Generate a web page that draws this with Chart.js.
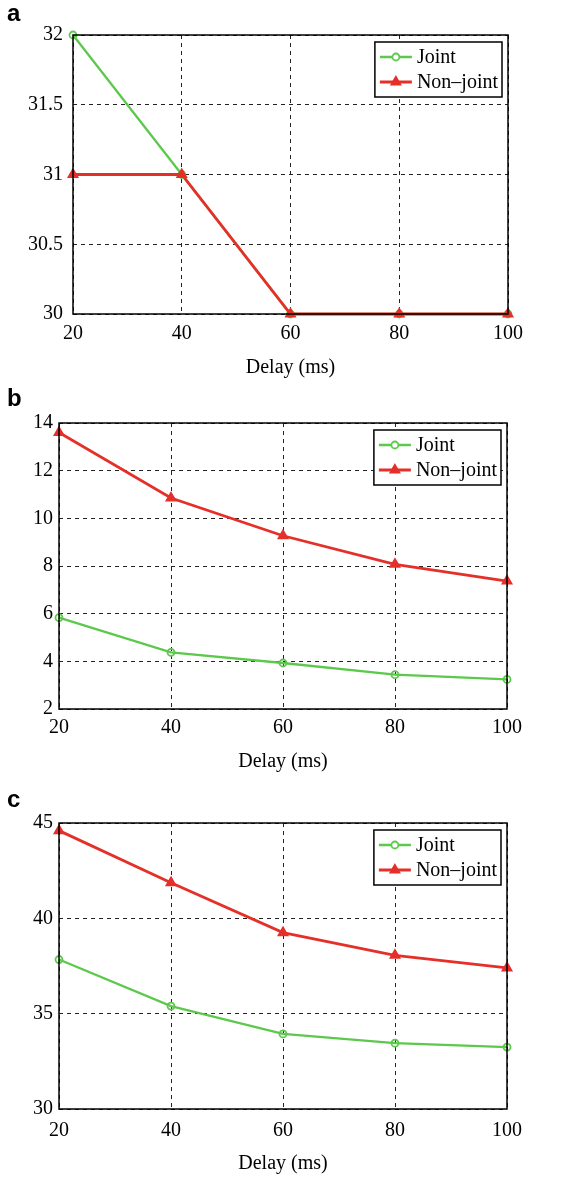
<!DOCTYPE html>
<html>
<head>
<meta charset="utf-8">
<script src="https://cdn.jsdelivr.net/npm/chart.js@4/dist/chart.umd.min.js"></script>
<style>
  html, body { margin: 0; padding: 0; background: #fff; }
  #wrap { position: relative; width: 578px; height: 1177px; }
  .panel { position: absolute; left: 0; width: 578px; }
  .tag { position: absolute; left: 7px; font: bold 24px "Liberation Sans", Arial, sans-serif; line-height: 24px; }
</style>
</head>
<body>
<div id="wrap">
  <div class="panel" style="top:0;height:380px"><canvas id="chart-a" width="578" height="380"></canvas></div>
  <div class="panel" style="top:380px;height:400px"><canvas id="chart-b" width="578" height="400"></canvas></div>
  <div class="panel" style="top:780px;height:397px"><canvas id="chart-c" width="578" height="397"></canvas></div>
  <div class="tag" style="top:1px">a</div>
  <div class="tag" style="top:386px">b</div>
  <div class="tag" style="top:787px">c</div>
</div>
<script>
// Delay (ms) sur l'axe x, trois panneaux
const DELAYS = [20, 40, 60, 80, 100];

const jointA = [32, 31, 30, 30, 30];
const nonJointA = [31, 31, 30, 30, 30];
const yTicksA = [30, 30.5, 31, 31.5, 32];

const jointB = [5.83, 4.38, 3.93, 3.44, 3.24];
const nonJointB = [13.6, 10.85, 9.27, 8.07, 7.37];
const yTicksB = [2, 4, 6, 8, 10, 12, 14];

const jointC = [37.84, 35.4, 33.94, 33.45, 33.25];
const nonJointC = [44.6, 41.87, 39.25, 38.06, 37.4];
const yTicksC = [30, 35, 40, 45];

const GREEN = '#5cc84c';
const RED = '#e5302a';
const FONT = '"Liberation Serif", "Times New Roman", serif';

// cadre noir + légende encadrée (style MATLAB)
const framePlugin = {
  id: 'frame',
  afterDraw(chart) {
    const { ctx, chartArea: a } = chart;
    ctx.save();
    ctx.strokeStyle = '#000';
    ctx.lineWidth = 1.5;
    ctx.strokeRect(a.left, a.top, a.right - a.left, a.bottom - a.top);

    // légende
    ctx.font = '20px ' + FONT;
    const items = chart.data.datasets;
    const textW = Math.max(...items.map(d => ctx.measureText(d.label).width));
    const w = 5 + 32 + 5 + textW + 4;
    const h = 55;
    const x0 = a.right - 6 - w;
    const y0 = a.top + 7;
    ctx.fillStyle = '#fff';
    ctx.fillRect(x0, y0, w, h);
    ctx.strokeRect(x0, y0, w, h);
    items.forEach((d, i) => {
      const y = y0 + 15 + i * 25;
      ctx.strokeStyle = d.borderColor;
      ctx.lineWidth = d.borderWidth;
      ctx.beginPath();
      ctx.moveTo(x0 + 5, y);
      ctx.lineTo(x0 + 37, y);
      ctx.stroke();
      ctx.lineWidth = d.pointBorderWidth;
      Chart.helpers.drawPoint(ctx, {
        pointStyle: d.pointStyle,
        radius: d.pointRadius,
        borderWidth: d.pointBorderWidth
      }, x0 + 21, y);
      if (d.pointStyle === 'triangle') {
        ctx.fillStyle = d.borderColor;
        ctx.fill();
      }
      ctx.fillStyle = '#000';
      ctx.textBaseline = 'middle';
      ctx.textAlign = 'left';
      ctx.fillText(d.label, x0 + 42, y + 1);
    });
    ctx.restore();
  }
};

function series(label, values, color, style) {
  const tri = style === 'triangle';
  return {
    label: label,
    data: DELAYS.map((x, i) => ({ x: x, y: values[i] })),
    borderColor: color,
    backgroundColor: tri ? color : 'rgba(0,0,0,0)',
    borderWidth: tri ? 2.8 : 2.3,
    pointStyle: style,
    pointRadius: tri ? 5.5 : 3.5,
    pointBorderWidth: tri ? 1.5 : 1.8,
    pointBorderColor: color,
    pointBackgroundColor: tri ? color : 'rgba(0,0,0,0)',
    order: tri ? 1 : 2,
    tension: 0,
    clip: false
  };
}

function makeChart(id, joint, nonJoint, yTicks, lay) {
  const ctx = document.getElementById(id).getContext('2d');
  const grid = {
    color: '#222',
    lineWidth: 1,
    drawTicks: false
  };
  return new Chart(ctx, {
    type: 'line',
    data: {
      datasets: [
        series('Joint', joint, GREEN, 'circle'),
        series('Non\u2013joint', nonJoint, RED, 'triangle')
      ]
    },
    options: {
      responsive: false,
      animation: false,
      events: [],
      layout: { padding: { left: 0, top: lay.top, right: lay.right, bottom: 0 } },
      plugins: { legend: { display: false }, tooltip: { enabled: false } },
      scales: {
        x: {
          type: 'linear',
          min: DELAYS[0],
          max: DELAYS[DELAYS.length - 1],
          grid: grid,
          border: { display: false, dash: [4, 4] },
          ticks: {
            stepSize: 20,
            autoSkip: false,
            maxRotation: 0,
            padding: lay.xPad,
            color: '#000',
            font: { family: FONT, size: 20 }
          },
          title: {
            display: true,
            text: 'Delay (ms)',
            color: '#000',
            font: { family: FONT, size: 20 },
            padding: { top: 0, bottom: lay.titlePad }
          },
          afterFit: s => { s.height = lay.xHeight; }
        },
        y: {
          min: yTicks[0],
          max: yTicks[yTicks.length - 1],
          grid: grid,
          border: { display: false, dash: [4, 4] },
          afterBuildTicks: s => { s.ticks = yTicks.map(v => ({ value: v })); },
          ticks: {
            padding: lay.yPad,
            color: '#000',
            font: { family: FONT, size: 20 },
            callback: v => String(v)
          },
          afterFit: s => { s.width = lay.yWidth; }
        }
      }
    },
    plugins: [framePlugin]
  });
}

makeChart('chart-a', jointA, nonJointA, yTicksA,
  { top: 35, right: 70, xHeight: 66, xPad: 8, titlePad: 0, yPad: 10, yWidth: 73 });
makeChart('chart-b', jointB, nonJointB, yTicksB,
  { top: 43, right: 71, xHeight: 71, xPad: 7, titlePad: 6, yPad: 6, yWidth: 59 });
makeChart('chart-c', jointC, nonJointC, yTicksC,
  { top: 43, right: 71, xHeight: 68, xPad: 10, titlePad: 1, yPad: 6, yWidth: 59 });
</script>
</body>
</html>
